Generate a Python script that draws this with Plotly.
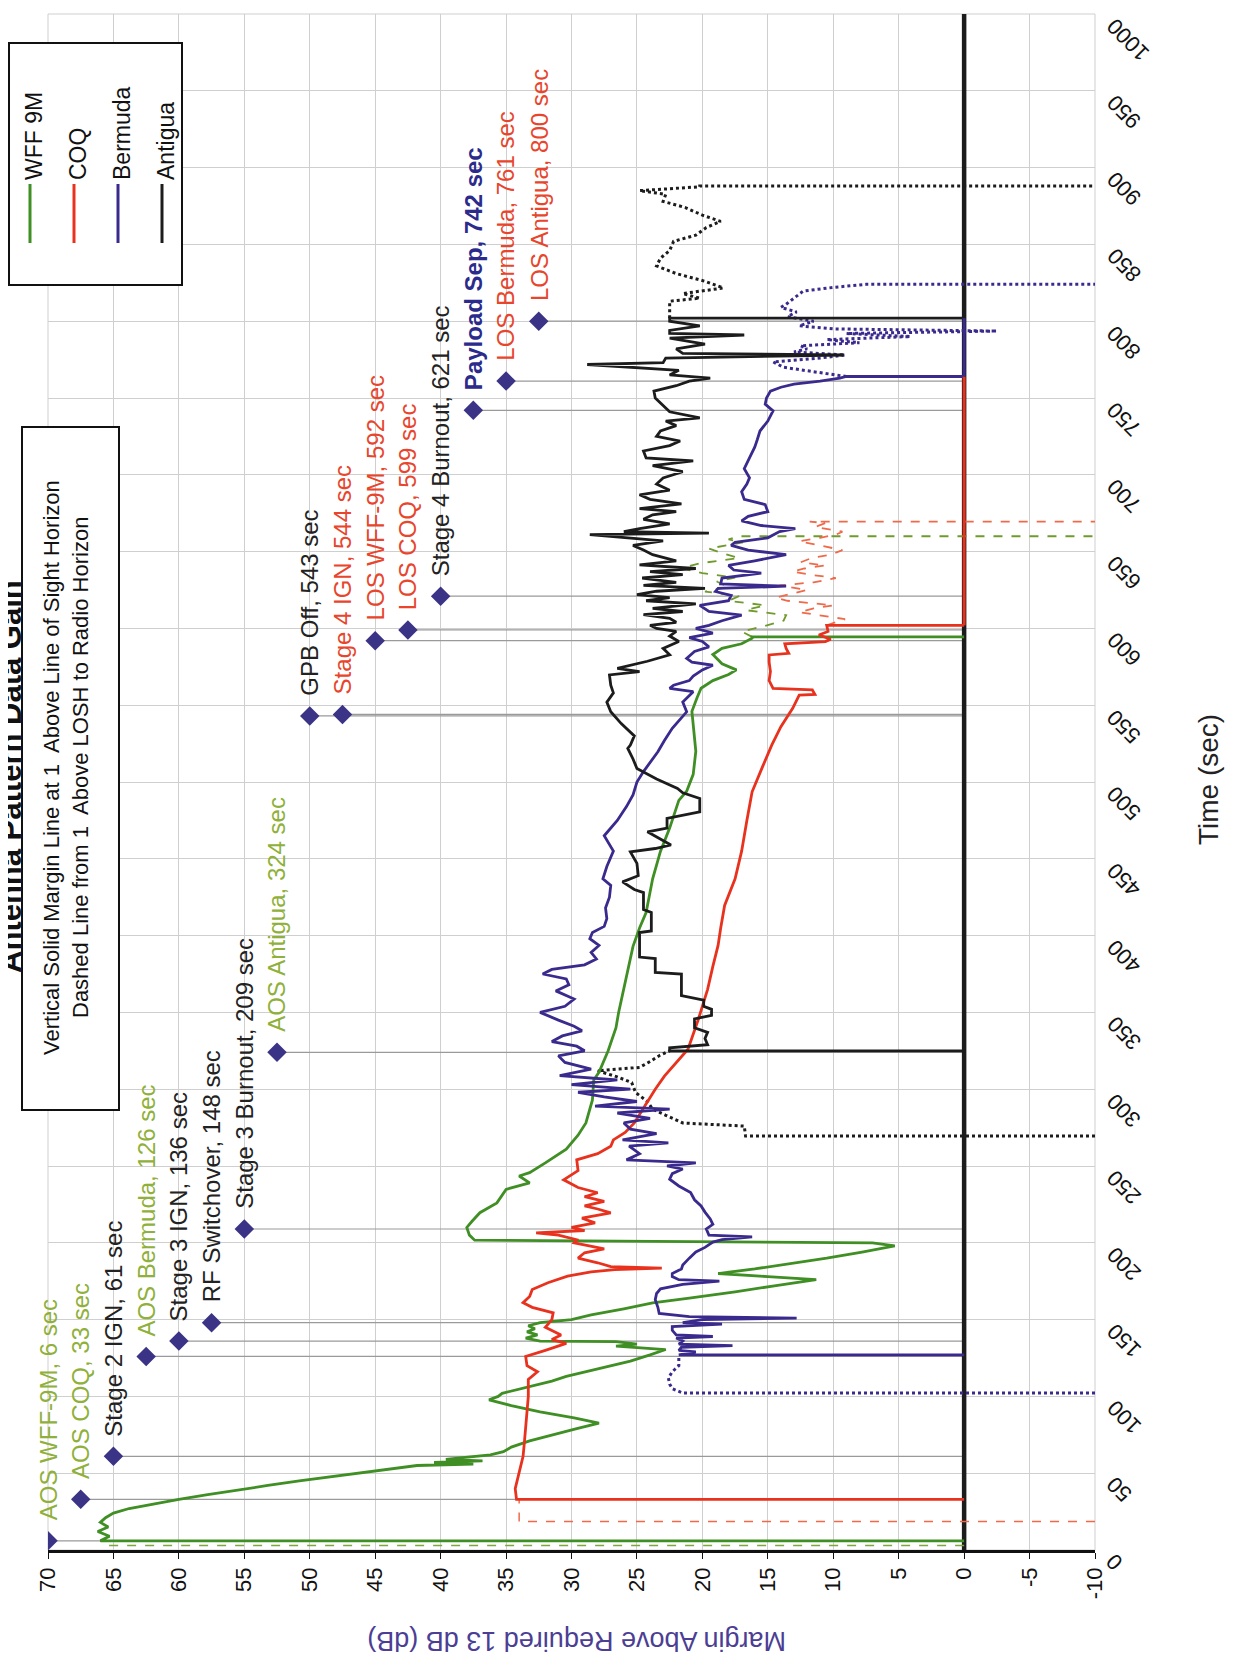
import plotly.graph_objects as go

# ---------------- data (time in s, margin in dB) ----------------
wff_solid = [(6,0),(6,66),(9,65.3),(12,66.2),(15,65.4),(18,66),(21,65.6),(24,65),(27,63.8),(30,62),(33,60),(36,57.8),
 (39,55.6),(42,53.2),(45,50.8),(48,48.2),(51,45.6),(53,43.8),(55,41.8),(56,37.5),(57,40.5),(58,36.8),(59,39.6),(60,38.5),
 (62,36.2),(64,35.2),(67,34.6),(71,33.2),(75,31.5),(79,29.6),(82.6,27.9),(86,29.8),(90,32.4),(94,34.6),(97.8,36.3),(100,35.6),
 (102,35.3),(106,33.5),(110,31.5),(113,30.4),(118,28),(123,25.5),(127,24),(130.5,22.8),(132.7,26.6),(134,25),(135.6,26.6),
 (136,32.4),(138,33.5),(140,32.6),(142,33.4),(144,32.8),(146,33.3),(148,32.4),(150,30),(153,28.5),(157,26),(160.9,23.8),
 (164,21),(168,17.5),(172,14.5),(176,11.3),(178,15),(180,18.8),(183,16),(186,13.5),(190,10.5),(194,7.8),(198,5.3),(200,7),
 (201.7,37.4),(205,37.8),(210,38),(214,37.6),(219.6,37),(226,35.7),(234.8,35),(239,33.2),(243.5,34),(245.7,33.2),(252,32),
 (261,30.4),(270,29.5),(278,28.9),(293,28.4),(306,28.3),(311,27.9),(325,27.2),(340,26.6),(350,26.4),(365,26),(380,25.6),
 (393,25.3),(405,24.8),(415,24.3),(437,23.8),(455,23.2),(470,22.5),(488,21.8),(494,21.2),(505,20.7),(520,20.5),(535,20.7),
 (546,20.8),(555,20.4),(561,20.1),(566,19.2),(570,18),(573,17.4),(577,18.5),(583,19.2),(587,18.5),(590,17),(593.6,16.2),
 (594.5,16.2),(594.5,0)]
wff_pre = [(3,0),(3,65.5),(6,66)]
wff_dash = [(594.5,16.2),(598,17),(601,15.5),(605,13.8),(608.6,13.6),(611.9,16.7),(615,15.2),(618,18),(621,17.2),(624,19.8),
 (627,18),(630.5,18.9),(633,17.5),(636,20),(639.2,21.6),(642.5,20.1),(645.8,17.2),(649,18.5),(652,19.5),(654,18.2),(656,16.9),
 (658,18),(660,17.2),(660,-10)]

coq_pre = [(18.5,-10),(18.5,34),(33,34)]
coq_solid = [(33,0),(33,34.2),(40,34.3),(50,34),(61,33.7),(70,33.6),(80,33.5),(89,33.4),(100,33.3),(111,33.3),(116,32.6),
 (120,33.4),(126,33.5),(130,32),(134.5,30.4),(137,31.5),(140,30.8),(145,32),(150,31.5),(154.4,31.4),(158,33),(161,33.7),
 (165,33.2),(169.6,33),(174,31.8),(178.3,30.3),(181,28.5),(182.6,26.7),(183.5,23.1),(184.5,27),(187,28),(190,29.5),
 (193.5,29),(196,27.5),(198,28.6),(200,29.8),(202,29.6),(205,31),(206.5,32.7),(208,29),(210,30),(213,28.2),(216,29.2),
 (219.5,27),(222,28),(224,29),(227,27.5),(230,29),(232.6,28),(236,29.5),(241,30.6),(247,29.5),(254,29.6),(258,28),
 (262.8,27),(267,26.8),(271.8,25.9),(278,25.2),(289,24.4),(300,23.6),(308.5,22.9),(317,22),(326,21.1),(345.7,20.3),
 (365,19.6),(380,19.2),(393.6,18.8),(405,18.6),(419.6,18.3),(437,17.5),(455,17),(475,16.6),(493.6,16.2),(510,15.4),
 (524,14.7),(536,14),(548,13.1),(556.6,12.6),(557,11.4),(560,11.6),(561,14.6),(566,14.9),(572,14.8),(578,14.9),(582.7,14.9),
 (583.8,13.4),(587,13.6),(590,13.7),(591.4,10.6),(593,10.2),(595.7,11.1),(598,10.4),(602,10.5),(602,0)]
coq_dash = [(602,10.5),(606,9.1),(610.6,12.6),(613,11.5),(615,10),(618,13.5),(620,14.4),(622.9,13.1),(625,12),(628,14.1),
 (630,11.5),(632.8,9.8),(635,11.8),(637,13.1),(639,12.2),(641,10.6),(643,12.5),(646,11.6),(648,10.2),(651,9.3),(654,11.2),
 (656.7,12.6),(659,11),(661,9.8),(663,9.3),(666,11.4),(668.6,10.6),(669.5,11.8),(669.5,-10)]
coq_zero = [(602,0),(764,0)]

ber_pre = [(102.2,-10),(102.2,21.5),(105,22.3),(108,22.5),(112,22.6),(116,22.3),(120,21.8),(124.5,21.8),(127,21.8)]
ber_solid = [(127,0),(127,21.8),(129,20.5),(130,21.8),(132,21.6),(133,17.7),(134,21.8),(136,21.5),(138,22),(139,19.2),
 (140,22),(143,22.3),(145.5,22.3),(147,18.5),(148,21.5),(150,20),(151,12.8),(152,21),(154,23.3),(158,23.4),(163,23.6),
 (167,23.5),(170,23.2),(173,21.5),(175,18.7),(176,21.8),(178,22.3),(180,22.3),(183,21.6),(185.5,21.5),(190,21),(194,20.5),
 (197,19.8),(200.5,19.2),(202,18.5),(203.8,16.2),(205,19.5),(209,19.7),(212,19.2),(215.5,19.4),(220,19.8),(224,20.1),
 (228,20.6),(232.7,20.9),(237,21.8),(241.4,22.5),(245,22.3),(248,21.5),(250,22.7),(252,20.5),(254,25.8),(258,24.8),
 (263,25.6),(265,22.6),(267,26.1),(271,23.5),(274,25.5),(278,26),(281,24),(284.5,26.5),(287,22.5),(289,28.2),(292,25),
 (295,27.5),(298,29.5),(300,25.5),(303,30),(306,26.5),(308.8,30.9),(313,28.5),(317.4,30.5),(321.7,31),(325,29),(328,29.6),
 (331,31.5),(334.7,30.7),(338,29.2),(341,29.8),(345,31),(350,32.4),(354,30.5),(358.7,29.8),(364,31.2),(368,30.2),
 (371.8,30.4),(375,32.2),(378,31.5),(381,29),(384.8,28.1),(389,28.5),(393.6,27.9),(398,28.6),(402,28.4),(406,27.5),
 (411,27.3),(418,27.4),(425,27.1),(432.7,27),(437,27.6),(445,27.3),(455,26.8),(465,27.5),(475,26.5),(484,25.8),
 (491.6,25.3),(500,25),(506.8,24.5),(513,24),(519.7,23.4),(527,22.9),(535,22.3),(545.7,21.2),(552,21.5),(558.8,20.7),
 (561,22.5),(563,22.2),(566,21),(569,20.7),(573,20),(576,19.2),(578,20.8),(580.5,21.2),(585,20.6),(588,19.5),(591.5,20),
 (594,21),(597,19.2),(600,20.5),(602,19.5),(605,18.5),(608.7,17),(611,19.5),(615,20.2),(618,18),(621.5,17.8),(624,19),
 (626,18.8),(627.5,13.6),(629,18.6),(632.8,18.5),(636,15.5),(638,17.6),(641,18),(644,16),(648,13.6),(651,16.5),(654,17.8),
 (656,17.5),(659,15),(663,14.1),(665,12.9),(667,15.5),(670,17),(673,16.5),(676,15),(680.6,15.2),(684,16.8),(689,17),
 (694,16.6),(698,16.4),(704,16.8),(711,16.4),(718,16),(723,15.8),(728.5,15.6),(735,15),(741.6,14.6),(746,15.2),(750,15.1),
 (754.5,14.8),(757,14),(759,13),(761,11),(763,9.5),(764,9),(764,0)]
ber_post = [(764,9),(767,11.5),(770,13.8),(773.5,14.6),(776,11),(778,9.1),(780,13),(782,12),(784,12.5),(786,8),(788,10.5),
 (790,4.1),(792,9),(793.6,-2.5),(795,10),(797,12.6),(800,11.5),(803,13.5),(806,12.8),(809,14),(811,13.6),(815,13),
 (819.6,12.3),(822,10),(824,7.5),(824,-10)]
ber_zero = [(764,0),(802,0)]

ant_pre = [(269.6,-10),(269.6,16.7),(276,16.8),(278,21.5),(283,22.8),(286.9,23.8),(292,24.2),(297.8,25.1),(304.3,25.4),
 (308,26.5),(312,28),(314.2,24.8),(318,24),(321.8,23.3),(325,22.5)]
ant_solid = [(325,0),(325,22.5),(327,22.5),(329,19.6),(333,19.8),(337,19.6),(340,20.6),(345.7,20.6),(348,19.3),(352,19.3),
 (354,19.9),(358,19.9),(361,21.6),(368,21.6),(375,21.6),(376,23.6),(380,23.6),(385,23.6),(386,24.8),(394,24.8),(402,24.8),
 (403,23.9),(415,23.9),(417,24.5),(428,24.5),(430,25.2),(435,26.1),(439,24.9),(447,25),(454.5,25.5),(456.7,23.6),(459,22.4),
 (467.6,24.2),(470,22.7),(476.3,22.7),(480.6,20.2),(489.3,20.2),(493,21.5),(495.8,21.9),(502,23.5),(508.8,25),(515,25.3),
 (521.9,25.7),(524,25.5),(530,25.2),(538,26.2),(545.7,27),(552,27.3),(558,26.8),(563,27),(569.7,27.1),(571.8,24.8),
 (574,26.5),(578.6,24.2),(582.8,22.5),(587,23),(591.5,21.8),(595,22.5),(598,22),(600,23.5),(602,24),(604,22),(606.6,22.5),
 (609,24.5),(611,21.5),(613,23.8),(616,20.5),(618,24.3),(620,22.5),(622,25),(624.2,23.5),(626,19.8),(628,24.5),(630,22),
 (632.8,24.6),(635,21.5),(637,24),(639,20.5),(641.4,24.8),(644,22),(648,23.8),(651,24.5),(654,25.3),(657,23),(659,26),
 (661,28.6),(662,19.5),(663,26),(665,24.8),(668,22.5),(671,24.5),(674,23.8),(676,22),(678,24.8),(681,21.6),(684,24),
 (687,24.8),(690,22.5),(694,23.5),(698,23),(702,21.5),(706,23.8),(709,20.7),(711,24.3),(715.5,24.5),(719,22.5),(722,21.7),
 (725,23.5),(728.5,23.2),(732,22),(735,22.8),(737,20.2),(741,22.5),(745,23),(750,23.6),(754.5,23.7),(758,22),(761,21),
 (763,19.4),(765,22.5),(768,21.8),(771.8,28.8),(773,23),(776,22.8),(778,9.2),(779,21.5),(782,22),(785,19.8),(789,22.5),
 (791,16.8),(792,22.5),(794,22.5),(797,20.2),(800,22.5),(802,22.5),(802,0)]
ant_post = [(802,22.5),(806.5,22.5),(813,22.5),(815,20.2),(818,21.5),(821.6,18.4),(826,19.8),(831,22),(836,23.5),(841,23.2),
 (846,22.5),(852,22.2),(856,20.5),(861,19.7),(865,18.6),(869,20),(874,21.3),(878,23),(882.6,22.8),(885,24.8),(887.5,20.2),
 (888,20.2),(888,-10)]

time_axis_line = [(0,0),(1000,0)]

event_labels = ["AOS WFF-9M, 6 sec","AOS COQ, 33 sec","Stage 2 IGN, 61 sec","AOS Bermuda, 126 sec","Stage 3 IGN, 136 sec",
 "RF Switchover, 148 sec","Stage 3 Burnout, 209 sec","AOS Antigua, 324 sec","GPB Off, 543 sec","Stage 4 IGN, 544 sec",
 "LOS WFF-9M, 592 sec","LOS COQ, 599 sec","Stage 4 Burnout, 621 sec","Payload Sep, 742 sec","LOS Bermuda, 761 sec",
 "LOS Antigua, 800 sec"]
event_time = [6,33,61,126,136,148,209,324,543,544,592,599,621,742,761,800]
event_marker_margin = [70,67.5,65,62.5,60,57.5,55,52.5,50,47.5,45,42.5,40,37.5,35,32.5]
event_kind = ["aos","aos","stage","aos","stage","stage","stage","aos","stage","los","los","los","stage","sep","los","los"]

margin_ticks = list(range(-10, 75, 5))
time_ticks = list(range(0, 1050, 50))
legend_names = ["WFF 9M","COQ","Bermuda","Antigua"]

# ---------------- styling ----------------
BODY = 8                      # default page body margin
W, H = 1233 - BODY, 1663 - BODY
PL, PR_EDGE, PT, PB_EDGE = 48, 1095, 14, 1550   # plot area in page pixels
FONT = "Liberation Sans, Arial, sans-serif"
GREEN, RED, PURPLE, BLACK = "#3f8f24", "#e8321e", "#3a2a8e", "#1c1c1c"
kind_color = {"aos": "#8fb03a", "stage": "#222222", "los": "#e8452c", "sep": "#2b2b8c"}
PW, PH = PR_EDGE - PL, PB_EDGE - PT

def px(x): return (x - PL) / PW
def py(y): return 1 - (y - PT) / PH

fig = go.Figure()

def add(series, color, width, dash="solid"):
    fig.add_trace(go.Scatter(x=[m for t, m in series], y=[t for t, m in series], mode="lines",
                             line=dict(color=color, width=width, dash=dash), hoverinfo="skip", showlegend=False))

# event connector lines
ex, ey = [], []
for t, m in zip(event_time, event_marker_margin):
    ex += [m, 0, None]; ey += [t, t, None]
fig.add_trace(go.Scatter(x=ex, y=ey, mode="lines", line=dict(color="#9a9a9a", width=1.2), hoverinfo="skip", showlegend=False))

add(time_axis_line, BLACK, 4.5)
add(wff_pre, "#7aa83a", 1.5, "dash")
add(wff_dash, "#6f9a2c", 1.8, "dash")
add(coq_pre, "#f06a4a", 1.5, "dash")
add(coq_dash, "#f06a4a", 1.8, "dash")
add(ber_pre, PURPLE, 3, "dot")
add(ber_post, PURPLE, 3, "dot")
add(ant_pre, BLACK, 3, "dot")
add(ant_post, BLACK, 3, "dot")
add(wff_solid, GREEN, 2.8)
add(coq_solid, RED, 2.8)
add(ber_solid, PURPLE, 2.8)
add(ant_solid, BLACK, 2.8)
add(coq_zero, RED, 3)
add(ber_zero, PURPLE, 3)

fig.add_trace(go.Scatter(x=event_marker_margin, y=event_time, mode="markers",
                         marker=dict(symbol="diamond", size=15, color="#3b3486"), hoverinfo="skip", showlegend=False))

ann = []
for lab, t, m, k in zip(event_labels, event_time, event_marker_margin, event_kind):
    txt = "<b>%s</b>" % lab if k == "sep" else lab
    ann.append(dict(x=m, y=t, xref="x", yref="y", text=txt, textangle=-90, showarrow=False,
                    xanchor="center", yanchor="bottom", yshift=18,
                    font=dict(family=FONT, size=24, color=kind_color[k])))

# time tick labels (slanted, as in the rotated original)
for v in time_ticks:
    ann.append(dict(x=px(1099), y=v, xref="paper", yref="y", text=str(v), textangle=-135, showarrow=False,
                    xanchor="left", yanchor="top", yshift=4,
                    font=dict(family=FONT, size=22, color="#111")))

# title (cut at the page edge like the scan)
ann.append(dict(x=px(10), y=py(777), xref="paper", yref="paper", text="<b>Antenna Pattern Data Gain</b>",
                textangle=-90, showarrow=False, xanchor="center", yanchor="middle",
                font=dict(family=FONT, size=31, color="#111")))
# note box
note_lines = ["Vertical Solid Margin Line at 1  Above Line of Sight Horizon",
              "Dashed Line from 1  Above LOSH to Radio Horizon"]
for xc, line in zip([51, 80], note_lines):
    ann.append(dict(x=px(xc), y=py(768), xref="paper", yref="paper", text=line, textangle=-90, showarrow=False,
                    xanchor="center", yanchor="middle", font=dict(family=FONT, size=22, color="#111")))
# legend
leg_x = [30, 74, 118, 162]
leg_col = [GREEN, RED, PURPLE, BLACK]
shapes = [dict(type="rect", xref="paper", yref="paper", x0=px(9), x1=px(182), y0=py(43), y1=py(285),
               line=dict(color="#111", width=2), fillcolor="white", layer="above"),
          dict(type="rect", xref="paper", yref="paper", x0=px(22), x1=px(119), y0=py(427), y1=py(1110),
               line=dict(color="#111", width=2), fillcolor="white", layer="above"),
          dict(type="rect", xref="paper", yref="paper", x0=0, x1=1, y0=0, y1=1,
               line=dict(color="#cfcfcf", width=1), layer="below")]
for lx, c, name in zip(leg_x, leg_col, legend_names):
    shapes.append(dict(type="line", xref="paper", yref="paper", x0=px(lx), x1=px(lx), y0=py(184), y1=py(243),
                       line=dict(color=c, width=3), layer="above"))
    ann.append(dict(x=px(lx + 4), y=py(182), xref="paper", yref="paper", text=name, textangle=-90, showarrow=False,
                    xanchor="center", yanchor="bottom", font=dict(family=FONT, size=23, color="#111")))
# axis titles
ann.append(dict(x=px(577), y=py(1641), xref="paper", yref="paper", text="Margin Above Required 13 dB (dB)",
                textangle=180, showarrow=False, xanchor="center", yanchor="middle",
                font=dict(family=FONT, size=27, color="#4b3e94")))
ann.append(dict(x=px(1208), y=py(780), xref="paper", yref="paper", text="Time (sec)",
                textangle=-90, showarrow=False, xanchor="center", yanchor="middle",
                font=dict(family=FONT, size=28, color="#222")))

fig.update_layout(
    width=W, height=H,
    margin=dict(l=PL - BODY, r=W - (PR_EDGE - BODY), t=PT - BODY, b=H - (PB_EDGE - BODY)),
    paper_bgcolor="white", plot_bgcolor="white", showlegend=False,
    annotations=ann, shapes=shapes,
    xaxis=dict(range=[70, -10], tickvals=margin_ticks, ticktext=[str(v) for v in margin_ticks],
               tickangle=-90, tickfont=dict(family=FONT, size=22, color="#111"),
               showgrid=True, gridcolor="#cfcfcf", gridwidth=1, zeroline=False,
               showline=True, linecolor="#111", linewidth=2.5, ticks="outside", ticklen=6, tickcolor="#111",
               mirror=False),
    yaxis=dict(range=[0, 1000], side="right", tickvals=time_ticks, showticklabels=False,
               showgrid=True, gridcolor="#cfcfcf", gridwidth=1, zeroline=False,
               showline=False, ticks=""),
)

fig.write_html("out.html")
